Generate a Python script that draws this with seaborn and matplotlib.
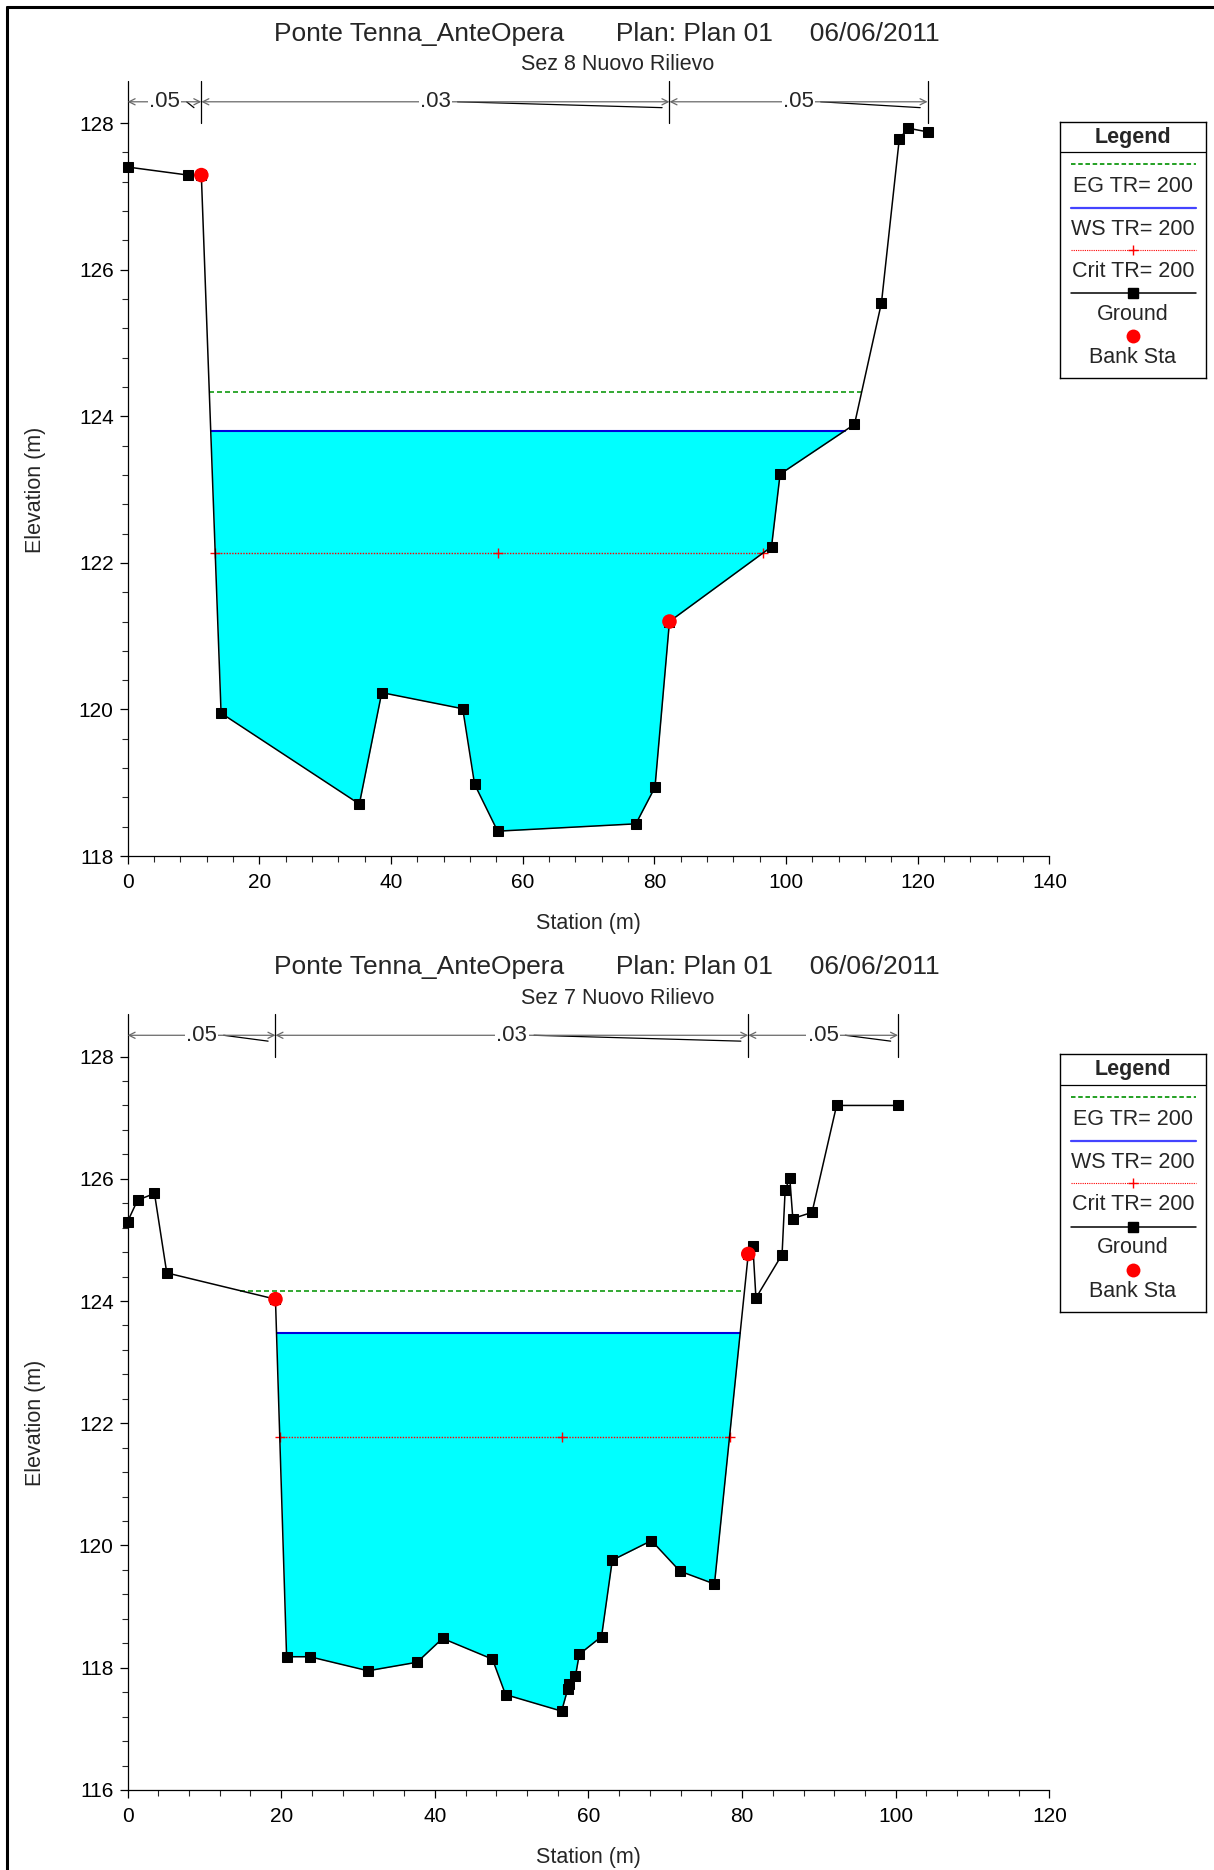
import numpy as np
import matplotlib
matplotlib.use('Agg')
import matplotlib.pyplot as plt
import matplotlib.transforms as mtransforms
from matplotlib.lines import Line2D
import seaborn as sns

titolo = "Ponte Tenna_AnteOpera       Plan: Plan 01     06/06/2011"

sez8_nome = "Sez 8 Nuovo Rilievo"
sez8_station = [0.0, 9.2, 11.2, 14.2, 35.2, 38.6, 50.9, 52.7, 56.2, 77.2, 80.1,
                82.3, 97.8, 99.1, 110.4, 114.5, 117.2, 118.5, 121.5]
sez8_elev = [127.40, 127.29, 127.29, 119.95, 118.71, 120.23, 120.01, 118.98, 118.34,
             118.44, 118.94, 121.20, 122.22, 123.21, 123.89, 125.55, 127.78, 127.93, 127.88]
sez8_bank = [11.2, 82.3]
sez8_eg = 124.33
sez8_ws = 123.80
sez8_crit = 122.13
sez8_n = ['.05', '.03', '.05']

sez7_nome = "Sez 7 Nuovo Rilievo"
sez7_station = [0.0, 1.3, 3.5, 5.1, 19.25, 20.7, 23.7, 31.3, 37.7, 41.0, 47.5, 49.2,
                56.5, 57.3, 57.4, 58.3, 58.8, 61.7, 63.1, 68.2, 71.9, 76.4, 80.8, 81.4,
                81.8, 85.2, 85.6, 86.2, 86.6, 89.1, 92.3, 100.3]
sez7_elev = [125.30, 125.65, 125.76, 124.46, 124.03, 118.18, 118.18, 117.95, 118.09,
             118.48, 118.14, 117.56, 117.29, 117.65, 117.74, 117.86, 118.22, 118.51,
             119.76, 120.08, 119.58, 119.37, 124.77, 124.90, 124.05, 124.76, 125.81,
             126.02, 125.35, 125.45, 127.20, 127.20]
sez7_bank = [19.25, 80.8]
sez7_eg = 124.17
sez7_ws = 123.48
sez7_crit = 121.78
sez7_n = ['.05', '.03', '.05']

legend_labels = ["EG TR= 200", "WS TR= 200", "Crit TR= 200", "Ground", "Bank Sta"]

sns.set_theme(style="ticks")
plt.rcParams['font.family'] = ['Liberation Sans', 'DejaVu Sans']

EG_COL = '#119911'
WS_COL = '#0000dd'
CYAN = '#00ffff'


def estensione(st, el, livello):
    # tratto bagnato attorno al thalweg
    st = np.asarray(st)
    el = np.asarray(el)
    i = int(np.argmin(el))
    j = i
    while j > 0 and el[j - 1] < livello:
        j -= 1
    k = i
    while k < len(el) - 1 and el[k + 1] < livello:
        k += 1
    sx = np.interp(livello, [el[j], el[j - 1]], [st[j], st[j - 1]])
    dx = np.interp(livello, [el[k], el[k + 1]], [st[k], st[k + 1]])
    return sx, dx, j, k


def disegna_sezione(ax, st, el, bank, eg, ws, crit, n_vals, xmax, ylim):
    st = np.asarray(st)
    el = np.asarray(el)

    # acqua
    sx, dx, j, k = estensione(st, el, ws)
    xs = np.concatenate([[sx], st[j:k + 1], [dx]])
    ys = np.concatenate([[ws], el[j:k + 1], [ws]])
    ax.fill_between(xs, ys, ws, color=CYAN, lw=0, zorder=1)
    ax.plot([sx, dx], [ws, ws], color=WS_COL, lw=1.5, zorder=2)

    # energia
    sx, dx, _, _ = estensione(st, el, eg)
    ax.plot([sx, dx], [eg, eg], color=EG_COL, lw=1.2, ls=(0, (3, 1.8)), zorder=2)

    # critica
    sx, dx, _, _ = estensione(st, el, crit)
    ax.plot([sx, dx], [crit, crit], color='red', lw=1.0, ls=(0, (1, 1)), zorder=2)
    ax.plot([sx, st[np.argmin(el)], dx], [crit] * 3, ls='none', marker='+',
            color='red', markersize=7, mew=1, zorder=3)

    # terreno
    sns.lineplot(x=st, y=el, ax=ax, color='black', lw=1.1, marker='s', markersize=6.5,
                 markeredgecolor='black', sort=False, estimator=None, zorder=4,
                 clip_on=False)
    bank_el = np.interp(bank, st, el)
    sns.scatterplot(x=bank, y=bank_el, ax=ax, color='red', s=110, edgecolor='none',
                    zorder=5, clip_on=False)

    ax.set_xlim(0, xmax)
    ax.set_ylim(*ylim)
    ax.set_xticks(np.arange(0, xmax + 1, 20))
    ax.set_xticks(np.arange(0, xmax + 1, 4), minor=True)
    ax.set_yticks(np.arange(ylim[0], ylim[1] + 0.1, 2))
    ax.set_yticks(np.arange(ylim[0], ylim[1] + 0.1, 0.4), minor=True)
    ax.tick_params(which='major', direction='out', length=6, width=0.9, labelsize=15,
                   pad=4, colors='black')
    ax.tick_params(axis='x', which='major', pad=6)
    ax.tick_params(which='minor', direction='out', length=4, width=0.8)
    sns.despine(ax=ax)
    for s in ['left', 'bottom']:
        ax.spines[s].set_linewidth(0.9)
        ax.spines[s].set_color('black')
    ax.set_xlabel('Station (m)', fontsize=15.5)
    ax.set_ylabel('Elevation (m)', fontsize=15.5)
    ax.xaxis.set_label_coords(0.5, -0.078)
    ax.yaxis.set_label_coords(-0.0885, 0.5)
    ax.grid(False)

    # valori di Manning sopra il grafico
    tr = mtransforms.blended_transform_factory(ax.transData, ax.transAxes)
    limiti = [st[0], bank[0], bank[1], st[-1]]
    ya = 1.029
    for xb in limiti:
        ax.plot([xb, xb], [1.0, 1.058], transform=tr, color='black', lw=0.9, clip_on=False)
    for x0, x1, lab in zip(limiti[:-1], limiti[1:], n_vals):
        xc = (x0 + x1) / 2
        ax.annotate('', xy=(x0, ya), xytext=(x1, ya), xycoords=tr, textcoords=tr,
                    arrowprops=dict(arrowstyle='<->', color='dimgray', lw=0.9,
                                    shrinkA=0, shrinkB=0, mutation_scale=11),
                    annotation_clip=False)
        ax.text(xc, ya, lab, transform=tr, ha='center', va='center', fontsize=16,
                bbox=dict(facecolor='white', edgecolor='none', pad=1.0), zorder=6,
                clip_on=False)
        ax.plot([xc + 0.024 * xmax, x1 - 0.008 * xmax], [ya, ya - 0.008], transform=tr,
                color='black', lw=0.9, clip_on=False)


def disegna_legenda(lax):
    lax.set_xlim(0, 1)
    lax.set_ylim(0, 1)
    lax.set_xticks([])
    lax.set_yticks([])
    for s in lax.spines.values():
        s.set_visible(True)
        s.set_linewidth(1.0)
        s.set_color('black')
    fs = 15.5
    d = 0.009
    lax.text(0.5, 0.949 - d, 'Legend', ha='center', va='center', fontsize=fs,
             fontweight='bold')
    lax.plot([0, 1], [0.883, 0.883], color='black', lw=0.9)
    x0, x1 = 0.075, 0.93
    lax.plot([x0, x1], [0.836, 0.836], color=EG_COL, lw=1.3, ls=(0, (2.5, 1.5)))
    lax.text(0.5, 0.758 - d, legend_labels[0], ha='center', va='center', fontsize=fs)
    lax.plot([x0, x1], [0.664, 0.664], color='#4444ff', lw=1.6)
    lax.text(0.5, 0.590 - d, legend_labels[1], ha='center', va='center', fontsize=fs)
    lax.plot([x0, x1], [0.5, 0.5], color='red', lw=0.8, ls=(0, (1, 1)))
    lax.plot([0.5], [0.5], marker='+', color='red', markersize=7, mew=1)
    lax.text(0.5, 0.426 - d, legend_labels[2], ha='center', va='center', fontsize=fs)
    lax.plot([x0, x1], [0.332, 0.332], color='black', lw=1.1)
    lax.plot([0.5], [0.332], marker='s', color='black', markersize=6.5)
    lax.text(0.5, 0.258 - d, legend_labels[3], ha='center', va='center', fontsize=fs)
    lax.plot([0.5], [0.164], marker='o', color='red', markersize=10, mec='none')
    lax.text(0.5, 0.090 - d, legend_labels[4], ha='center', va='center', fontsize=fs)


fig = plt.figure(figsize=(12.14, 18.70), dpi=100)

ax1 = fig.add_axes([0.1051, 0.5422, 0.7593, 0.3920])
ax2 = fig.add_axes([0.1051, 0.0428, 0.7593, 0.3922])

disegna_sezione(ax1, sez8_station, sez8_elev, sez8_bank, sez8_eg, sez8_ws, sez8_crit,
                sez8_n, 140, (118, 128))
disegna_sezione(ax2, sez7_station, sez7_elev, sez7_bank, sez7_eg, sez7_ws, sez7_crit,
                sez7_n, 120, (116, 128))

fig.text(0.5, 0.9820, titolo, ha='center', va='center', fontsize=19)
fig.text(0.509, 0.9654, sez8_nome, ha='center', va='center', fontsize=15.5)
fig.text(0.5, 0.4827, titolo, ha='center', va='center', fontsize=19)
fig.text(0.509, 0.4661, sez7_nome, ha='center', va='center', fontsize=15.5)

lax1 = fig.add_axes([0.8731, 0.7979, 0.1203, 0.1369])
lax2 = fig.add_axes([0.8731, 0.2984, 0.1203, 0.1377])
disegna_legenda(lax1)
disegna_legenda(lax2)

# cornice
fig.add_artist(Line2D([0.0058, 1.0], [0.9963, 0.9963], color='black', lw=2.2,
                      transform=fig.transFigure))
fig.add_artist(Line2D([0.0058, 0.0058], [0.0, 0.9963], color='black', lw=2.2,
                      transform=fig.transFigure))

plt.savefig('out.png', dpi=100)
plt.close()
